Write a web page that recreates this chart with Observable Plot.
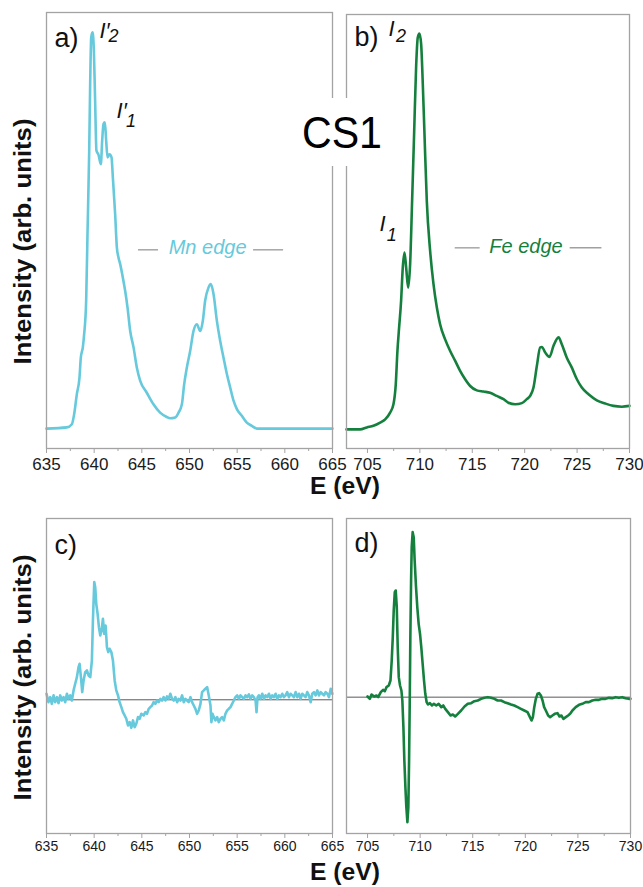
<!DOCTYPE html>
<html>
<head>
<meta charset="utf-8">
<script src="https://cdn.jsdelivr.net/npm/d3@7"></script>
<script src="https://cdn.jsdelivr.net/npm/@observablehq/plot@0.6"></script>
<style>
html, body { margin: 0; padding: 0; background: #fff; }
#fig { position: relative; width: 643px; height: 887px; overflow: hidden; background: #fff; }
</style>
</head>
<body>
<div id="fig"></div>
<script>
// ---------- data (energies in eV, intensities in arbitrary units) ----------
const mnTicks = [635, 640, 645, 650, 655, 660, 665];
const mnMinorTicks = [637.5, 642.5, 647.5, 652.5, 657.5, 662.5];
const feTicks = [705, 710, 715, 720, 725, 730];
const feMinorTicks = [707.5, 712.5, 717.5, 722.5, 727.5];

// a) Mn L-edge XAS
const mnXasEnergy = [635.0, 637.13, 637.66, 637.90, 638.18, 638.46, 638.60, 638.81, 638.95, 639.16, 639.30, 639.48, 639.58, 639.69, 639.83, 639.97, 640.10, 640.24, 640.45, 640.70, 640.84, 640.98, 641.12, 641.26, 641.40, 641.61, 641.82, 641.96, 642.20, 642.38, 642.55, 642.73, 643.01, 643.25, 643.50, 643.78, 644.13, 644.48, 644.83, 645.52, 646.22, 646.92, 647.62, 647.97, 648.50, 648.85, 649.20, 649.44, 649.72, 650.07, 650.42, 650.77, 651.12, 651.40, 651.64, 651.99, 652.24, 652.52, 652.87, 653.22, 653.57, 653.92, 654.27, 654.62, 654.97, 655.49, 656.01, 656.54, 657.06, 665.0];
const mnXasIntensity = [0, 0.3, 1.1, 3.6, 8.6, 12.8, 17.8, 20.4, 23.7, 32.1, 48.8, 69.8, 86.5, 98.2, 99.5, 94.9, 82.3, 69.8, 68.8, 66.4, 72.3, 76.5, 76.9, 72.3, 68.1, 68.9, 68.1, 63.1, 53.9, 45.5, 43.0, 41.3, 37.9, 34.6, 30.4, 24.5, 20.4, 15.3, 12.0, 9.0, 6.1, 4.0, 2.9, 2.6, 2.8, 4.0, 6.1, 11.1, 15.3, 19.5, 24.5, 26.2, 24.5, 27.1, 32.1, 35.4, 36.3, 33.8, 27.1, 22.0, 17.8, 13.7, 10.3, 7.0, 4.9, 3.2, 1.5, 0.7, 0, 0];

// b) Fe L-edge XAS
const feXasEnergy = [703.0, 704.30, 704.94, 705.57, 706.21, 706.69, 707.16, 707.48, 707.70, 707.86, 708.02, 708.21, 708.37, 708.53, 708.69, 708.88, 709.07, 709.26, 709.45, 709.64, 709.80, 709.96, 710.12, 710.28, 710.44, 710.66, 710.98, 711.30, 711.62, 711.93, 712.41, 712.89, 713.37, 713.84, 714.32, 714.80, 715.43, 716.07, 716.70, 717.34, 717.98, 718.45, 719.09, 719.73, 720.20, 720.52, 720.84, 721.16, 721.48, 721.64, 721.96, 722.37, 722.75, 723.23, 723.54, 724.02, 724.50, 724.98, 725.45, 726.09, 726.88, 727.68, 728.47, 729.27, 730.0];
const feXasIntensity = [-0.2, -0.2, 0.3, 0.7, 1.5, 2.3, 4.0, 6.1, 11.1, 19.5, 25.4, 32.1, 40.5, 44.2, 40.5, 35.4, 41.3, 57.2, 74.0, 90.7, 98.2, 99.2, 96.6, 86.5, 74.0, 57.2, 44.6, 36.3, 30.4, 26.2, 22.4, 19.5, 17.0, 14.5, 12.4, 10.7, 9.6, 9.3, 9.0, 8.2, 7.4, 6.5, 6.1, 6.4, 7.4, 8.2, 10.3, 15.7, 20.4, 20.5, 19.1, 18.0, 20.8, 22.9, 21.2, 17.8, 15.3, 12.4, 10.3, 8.6, 7.1, 6.3, 5.7, 5.5, 5.7];

// c) Mn XMCD
const mnXmcdEnergy = [635.00, 635.21, 635.39, 635.56, 635.74, 635.91, 636.09, 636.26, 636.44, 636.61,
  636.79, 636.96, 637.14, 637.31, 637.49, 637.66, 637.84, 638.01, 638.19, 638.36,
  638.47, 638.61, 638.75, 638.89, 639.06, 639.24, 639.41, 639.59, 639.76, 639.87,
  640.01, 640.11, 640.22, 640.36, 640.50, 640.64, 640.78, 640.92, 641.06, 641.20,
  641.34, 641.48, 641.62, 641.80, 641.97, 642.15, 642.32, 642.50, 642.67, 642.85,
  643.02, 643.20, 643.37, 643.55, 643.72, 643.90, 644.07, 644.25, 644.42, 644.60,
  644.77, 644.95, 645.19, 645.37, 645.54, 645.72, 645.89, 646.07, 646.24, 646.42,
  646.59, 646.77, 646.94, 647.12, 647.29, 647.47, 647.64, 647.82, 647.99, 648.17,
  648.35, 648.52, 648.70, 648.87, 649.05, 649.22, 649.40, 649.57, 649.75, 649.92,
  650.10, 650.27, 650.45, 650.62, 650.80, 650.97, 651.15, 651.32, 651.50, 651.67,
  651.85, 652.02, 652.20, 652.30, 652.41, 652.55, 652.72, 652.90, 653.07, 653.25,
  653.42, 653.60, 653.77, 653.95, 654.12, 654.30, 654.47, 654.65, 654.82, 655.00,
  655.18, 655.35, 655.53, 655.70, 655.88, 656.05, 656.23, 656.40, 656.58, 656.75,
  656.93, 657.03, 657.14, 657.28, 657.45, 657.63, 657.81, 657.98, 658.16, 658.33,
  658.51, 658.68, 658.85, 659.03, 659.20, 659.38, 659.55, 659.73, 659.90, 660.08,
  660.25, 660.43, 660.60, 660.78, 660.95, 661.13, 661.30, 661.48, 661.65, 661.83,
  662.00, 662.18, 662.35, 662.53, 662.71, 662.88, 663.06, 663.23, 663.41, 663.58,
  663.76, 663.93, 664.11, 664.28, 664.46, 664.63, 664.81, 664.98];
const mnXmcdIntensity = [5.1, -2.0, 2.2, -3.4, 3.7, -2.0, 2.2, -2.8, 3.7, -0.6,
  2.2, -2.0, 5.1, 0.8, 3.7, -0.6, 7.9, 13.5, 19.1, 27.5,
  30.3, 19.1, 6.5, 16.3, 23.3, 24.7, 20.5, 19.1, 33.1, 66.9,
  99.2, 94.9, 80.9, 72.5, 61.2, 54.2, 58.4, 68.3, 55.6, 62.6,
  44.4, 40.2, 43.0, 40.2, 33.1, 16.3, 7.9, 3.7, -2.0, -6.2,
  -10.4, -13.2, -16.0, -21.6, -18.8, -23.6, -17.4, -23.0, -20.2, -14.6,
  -16.0, -11.8, -13.2, -10.4, -11.8, -7.6, -6.2, -4.8, -2.0, -3.4,
  -0.6, -2.0, 0.8, -0.6, 2.2, -0.6, 2.8, 0.8, 5.1, 0.8,
  -0.6, 2.2, -2.0, 0.8, -0.6, 3.7, -2.0, 0.8, -0.6, -2.0,
  2.2, -2.0, -4.8, -7.6, -11.8, -9.0, -3.4, 6.5, 7.9, 9.3,
  10.7, 3.7, -4.8, -18.8, -11.8, -14.6, -17.4, -14.6, -18.8, -16.0,
  -14.6, -17.4, -11.8, -9.0, -7.6, -6.2, -3.4, -0.6, 2.2, 3.7,
  0.8, 3.7, 2.2, 0.8, 3.7, 2.2, 4.5, 0.8, 3.7, 2.2,
  -0.6, -10.4, 2.2, 3.7, 0.8, 5.1, 0.8, 3.7, 2.2, 5.1,
  0.8, 3.7, 2.2, 5.1, 0.8, 3.7, 2.2, 5.1, 2.2, 3.7,
  6.5, 2.2, 5.1, 3.7, 2.2, 6.5, 2.2, 5.1, 0.8, 5.1,
  3.7, 2.2, 6.5, 3.7, -2.0, 5.1, 6.5, 3.7, 7.9, 3.7,
  6.5, 5.1, 3.7, 6.5, 5.1, 2.2, 9.3, 5.1];

// d) Fe XMCD
const feXmcdEnergy = [705.00, 705.22, 705.38, 705.63, 705.85, 706.01, 706.26, 706.48, 706.64, 706.80,
  707.02, 707.18, 707.30, 707.40, 707.49, 707.59, 707.68, 707.78, 707.87, 707.97,
  708.09, 708.22, 708.31, 708.41, 708.50, 708.60, 708.69, 708.79, 708.88, 708.95,
  709.01, 709.07, 709.14, 709.20, 709.29, 709.39, 709.48, 709.61, 709.73, 709.86,
  709.99, 710.11, 710.24, 710.37, 710.49, 710.62, 710.74, 710.93, 711.12, 711.31,
  711.53, 711.76, 712.01, 712.20, 712.39, 712.64, 712.89, 713.11, 713.33, 713.59,
  713.90, 714.22, 714.53, 714.85, 715.16, 715.48, 715.80, 716.11, 716.43, 716.74,
  717.06, 717.37, 717.69, 718.01, 718.32, 718.64, 718.95, 719.27, 719.58, 719.90,
  720.21, 720.44, 720.59, 720.72, 720.85, 721.00, 721.16, 721.32, 721.48, 721.64,
  721.79, 721.95, 722.17, 722.36, 722.58, 722.80, 723.06, 723.25, 723.43, 723.62,
  723.85, 724.07, 724.26, 724.48, 724.79, 725.11, 725.42, 725.74, 726.05, 726.37,
  726.69, 727.00, 727.32, 727.63, 727.95, 728.26, 728.58, 728.90, 729.21, 729.53,
  729.84, 730.00];
const feXmcdIntensity = [0.4, -1, 1.6, 0.4, 1, 0, 3, 4.4, 3.6, 6,
  7, 10, 22, 36, 52, 63, 64, 54, 30, 12,
  7, 4, -2, -18, -38, -54, -66, -75, -66, -38,
  -4, 36, 70, 90, 99, 96, 82, 66, 54, 44,
  38, 30, 20, 10, 2, -3, -4.4, -3.6, -5, -4,
  -5, -4, -6, -5, -7, -9, -11, -10.4, -11.6, -10,
  -8, -5.6, -4, -3.6, -2.4, -2, -1, -0.4, 0, -0.4,
  -1, -2, -2, -3, -3.6, -4.4, -5, -6, -7, -8,
  -9, -12, -14, -12, -6, -1, 2, 2.4, 1, -2,
  -6, -8, -11, -12, -11, -10, -9.6, -11.6, -11, -13,
  -12, -11, -10, -8, -6, -4.6, -4, -3, -3, -2,
  -1.6, -1.6, -1, -1, -0.4, -0.6, 0, -0.4, 0, -0.6,
  -1, -1];

const panelLabels = ["a)", "b)", "c)", "d)"];
const edgeLabels = ["Mn edge", "Fe edge"];
const yTitle = "Intensity (arb. units)";
const xTitle = "E (eV)";
const sampleName = "CS1";

// ---------- styles ----------
const FONT = "'Liberation Sans', Arial, Helvetica, sans-serif";
const MN = "#66c9dc";
const FE = "#15803d";
const FRAME = "#a3a3a3";
const INK = "#1a1a1a";

function panel(o) {
  const svg = Plot.plot({
    width: o.width, height: o.height,
    marginTop: o.mt, marginBottom: o.mb, marginLeft: o.ml, marginRight: o.mr,
    x: {domain: o.xDomain, label: null},
    y: {domain: o.yDomain, axis: null},
    style: {background: "transparent", overflow: "visible", fontFamily: FONT, color: INK},
    marks: [
      o.zero ? Plot.ruleY([0], {stroke: "#5a5a5a", strokeWidth: 1}) : null,
      Plot.line(o.I, {x: o.E, y: o.I, stroke: o.color, strokeWidth: 2.6, curve: o.curve || "linear", strokeLinejoin: "round"}),
      Plot.frame({stroke: FRAME, strokeWidth: 1.3}),
      Plot.axisX(o.minors, {tickSize: o.tickSize - 2, tickFormat: () => "", stroke: FRAME, fill: "none", label: null}),
      Plot.axisX(o.majors, {tickSize: o.tickSize, tickPadding: o.tickPadding, fontSize: o.tickFont, stroke: FRAME, color: INK, label: null}),
      Plot.text([o.label], {frameAnchor: "top-left", dx: 8, dy: o.labelDy, fontSize: 27, textAnchor: "start", lineAnchor: "top", fill: "#111"}),
      ...(o.extra || [])
    ]
  });
  svg.style.position = "absolute";
  svg.style.left = o.left + "px";
  svg.style.top = o.top + "px";
  document.getElementById("fig").appendChild(svg);
}

function peakLabel(x, y, xs, ys, main, sub) {
  return [
    Plot.text([main], {x, y, fontSize: 22, fontStyle: "italic", textAnchor: "start", lineAnchor: "bottom", fill: "#111"}),
    Plot.text([sub], {x: xs, y: ys, fontSize: 18, fontStyle: "italic", textAnchor: "start", lineAnchor: "bottom", fill: "#111"})
  ];
}

function edgeLabel(text, color, x, y, yLine, seg1, seg2) {
  return [
    Plot.ruleY([seg1, seg2], {y: yLine, x1: d => d[0], x2: d => d[1], stroke: "#a0a0a0", strokeWidth: 1.4}),
    Plot.text([text], {x, y, fill: color, fontSize: 20, fontStyle: "italic", textAnchor: "middle", lineAnchor: "middle"})
  ];
}

// a)
panel({
  E: mnXasEnergy, I: mnXasIntensity, color: MN, curve: "monotone-x",
  xDomain: [635, 665], yDomain: [-5.0, 104.5],
  majors: mnTicks, minors: mnMinorTicks,
  left: 0, top: 0, width: 340, height: 500, mt: 12, mb: 52, ml: 46, mr: 8,
  tickSize: 5, tickPadding: 4, tickFont: 17, label: panelLabels[0], labelDy: 15,
  extra: [
    ...peakLabel(640.55, 98.2, 641.5, 97.0, "I′", "2"),
    ...peakLabel(642.35, 78.1, 643.35, 75.8, "I′", "1"),
    ...edgeLabel(edgeLabels[0], MN, 651.9, 45.5, 44.9, [644.65, 646.75], [656.72, 659.87])
  ]
});

// b)
panel({
  E: feXasEnergy, I: feXasIntensity, color: FE, curve: "monotone-x",
  xDomain: [703, 730], yDomain: [-5.0, 104.0],
  majors: feTicks, minors: feMinorTicks,
  left: 340, top: 0, width: 303, height: 500, mt: 14, mb: 52, ml: 6, mr: 14,
  tickSize: 5, tickPadding: 4, tickFont: 17, label: panelLabels[1], labelDy: 12,
  extra: [
    ...peakLabel(707.0, 98.5, 707.72, 97.0, "I", "2"),
    ...peakLabel(706.15, 49.7, 706.85, 47.0, "I", "1"),
    ...edgeLabel(edgeLabels[1], FE, 720.12, 45.7, 45.4, [713.37, 715.75], [724.34, 727.37])
  ]
});

// c)
panel({
  E: mnXmcdEnergy, I: mnXmcdIntensity, color: MN, zero: true,
  xDomain: [635, 665], yDomain: [-112.7, 152.8],
  majors: mnTicks, minors: mnMinorTicks,
  left: 0, top: 505, width: 340, height: 382, mt: 13, mb: 54, ml: 46, mr: 8,
  tickSize: 5, tickPadding: 3, tickFont: 14, label: panelLabels[2], labelDy: 16
});

// d)
panel({
  E: feXmcdEnergy, I: feXmcdIntensity, color: FE, zero: true,
  xDomain: [703, 730], yDomain: [-81.8, 107.2],
  majors: feTicks, minors: feMinorTicks,
  left: 340, top: 505, width: 303, height: 382, mt: 13, mb: 54, ml: 6, mr: 13,
  tickSize: 5, tickPadding: 3, tickFont: 14, label: panelLabels[3], labelDy: 14
});

// ---------- titles overlay ----------
const ov = d3.select("#fig").append("svg")
  .attr("width", 643).attr("height", 887)
  .style("position", "absolute").style("left", "0px").style("top", "0px")
  .style("pointer-events", "none")
  .style("font-family", FONT);

[241.5, 677.5].forEach(cy => {
  ov.append("text")
    .attr("transform", `translate(30.5,${cy}) rotate(-90)`)
    .attr("text-anchor", "middle")
    .attr("font-size", 24).attr("font-weight", "bold").attr("fill", "#111")
    .attr("textLength", 246).attr("lengthAdjust", "spacingAndGlyphs")
    .text(yTitle);
});

[494, 880].forEach(by => {
  ov.append("text")
    .attr("x", 345).attr("y", by)
    .attr("text-anchor", "middle")
    .attr("font-size", 24).attr("font-weight", "bold").attr("fill", "#111")
    .attr("textLength", 70).attr("lengthAdjust", "spacingAndGlyphs")
    .text(xTitle);
});

ov.append("rect").attr("x", 299).attr("y", 98).attr("width", 88).attr("height", 68).attr("fill", "#fff");
ov.append("text")
  .attr("x", 342).attr("y", 148)
  .attr("text-anchor", "middle")
  .attr("font-size", 45).attr("fill", "#000")
  .attr("textLength", 80).attr("lengthAdjust", "spacingAndGlyphs")
  .text(sampleName);
</script>
</body>
</html>
